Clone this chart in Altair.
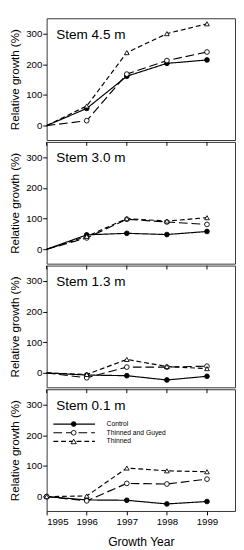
import altair as alt
import pandas as pd

years = [1995, 1996, 1997, 1998, 1999]
stems = ["Stem 4.5 m", "Stem 3.0 m", "Stem 1.3 m", "Stem 0.1 m"]
series = ["Control", "Thinned and Guyed", "Thinned"]

# one row per stem panel, values per growth year
control = [
    [0, 56, 161, 203, 214],
    [0, 47, 52, 48, 58],
    [0, -7, -9, -23, -11],
    [0, -11, -12, -24, -16],
]
thinned_guyed = [
    [0, 16, 168, 212, 240],
    [0, 37, 98, 89, 81],
    [0, -16, 19, 19, 22],
    [0, -14, 43, 41, 57],
]
thinned = [
    [0, 64, 238, 300, 332],
    [0, 42, 100, 92, 103],
    [0, -5, 44, 21, 14],
    [0, 2, 93, 84, 81],
]

rows = []
for i, s in enumerate(stems):
    for name, vals in zip(series, [control, thinned_guyed, thinned]):
        for yr, v in zip(years, vals[i]):
            rows.append({"stem": s, "series": name, "year": yr, "growth": v})
df = pd.DataFrame(rows)
year_df = pd.DataFrame({"year": years})

FONT = "Liberation Sans"

dash_range = [[1, 0], [9, 4], [5, 3]]
dash_scale = alt.Scale(domain=series, range=dash_range)
shape_scale = alt.Scale(domain=series, range=["circle", "circle", "triangle-up"])
fill_scale = alt.Scale(domain=series, range=["black", "white", "white"])
size_scale = alt.Scale(domain=series, range=[24, 24, 30])

W, H = 195, 126
xscale = alt.Scale(domain=[1995, 1999.7], nice=False, zero=False)


def panel(idx):
    s = stems[idx]
    last = idx == len(stems) - 1
    base = alt.Chart(df).transform_filter(alt.datum.stem == s)
    if last:
        x = alt.X("year:Q", scale=xscale,
                  axis=alt.Axis(values=years, format="d", title="Growth Year",
                                titleFontSize=12.5, titlePadding=10,
                                labelPadding=2, labelFontSize=10))
    else:
        x = alt.X("year:Q", scale=xscale, axis=None)
    y = alt.Y("growth:Q", scale=alt.Scale(domain=[-47, 350], nice=False, zero=False),
              axis=alt.Axis(values=[0, 100, 200, 300], title="Relative growth (%)"))
    lines = base.mark_line(color="black", strokeWidth=1.2).encode(
        x=x, y=y,
        strokeDash=alt.StrokeDash("series:N", scale=dash_scale, legend=None),
    )
    pts_base = base if last else base.transform_filter(alt.datum.year > 1995)
    pts = pts_base.mark_point(filled=True, stroke="black", strokeWidth=0.9, opacity=1).encode(
        x=x, y=y,
        shape=alt.Shape("series:N", scale=shape_scale, legend=None),
        fill=alt.Fill("series:N", scale=fill_scale, legend=None),
        size=alt.Size("series:N", scale=size_scale, legend=None),
    )
    label = alt.Chart(alt.Data(values=[{"label": s}])).mark_text(
        align="left", baseline="alphabetic", font=FONT, fontSize=14, color="black"
    ).encode(x=alt.value(10), y=alt.value(21), text="label:N")
    layers = [lines, pts, label]
    if idx > 0:
        # tick marks of the panel above, reaching into this panel's top edge
        ticks = alt.Chart(year_df).mark_rule(color="black", strokeWidth=1).encode(
            x=alt.X("year:Q", scale=xscale), y=alt.value(0), y2=alt.value(4))
        layers.append(ticks)
    if last:
        shapes = ["circle", "circle", "triangle-up"]
        fills = ["black", "white", "white"]
        sizes = [24, 24, 30]
        for i, name in enumerate(series):
            ly = 36 + 9 * i
            d = alt.Data(values=[{"series": name}])
            rule = alt.Chart(d).mark_rule(color="black", strokeWidth=1.2, strokeDash=dash_range[i]).encode(
                x=alt.value(7), x2=alt.value(50), y=alt.value(ly))
            mk = alt.Chart(d).mark_point(shape=shapes[i], filled=True, fill=fills[i], stroke="black",
                                         strokeWidth=0.9, size=sizes[i], opacity=1).encode(
                x=alt.value(28), y=alt.value(ly))
            tx = alt.Chart(d).mark_text(align="left", baseline="middle", font=FONT, fontSize=7,
                                        color="black").encode(
                x=alt.value(62), y=alt.value(ly), text="series:N")
            layers += [rule, mk, tx]
    return alt.layer(*layers).properties(width=W, height=H)


chart = alt.vconcat(*[panel(i) for i in range(len(stems))], spacing=0).properties(
    padding={"left": 0, "top": 0, "right": 0, "bottom": 0}
).configure_view(
    stroke="#333333", strokeWidth=1
).configure_axis(
    domain=False, grid=False, tickColor="black", tickSize=4, tickWidth=1,
    labelFont=FONT, labelFontSize=10, labelColor="black", labelPadding=1,
    titleFont=FONT, titleFontSize=12, titleFontWeight="normal", titleColor="black",
    titlePadding=4,
).configure_concat(spacing=0)

chart.save("out.html", embed_options={"renderer": "svg", "actions": False})
